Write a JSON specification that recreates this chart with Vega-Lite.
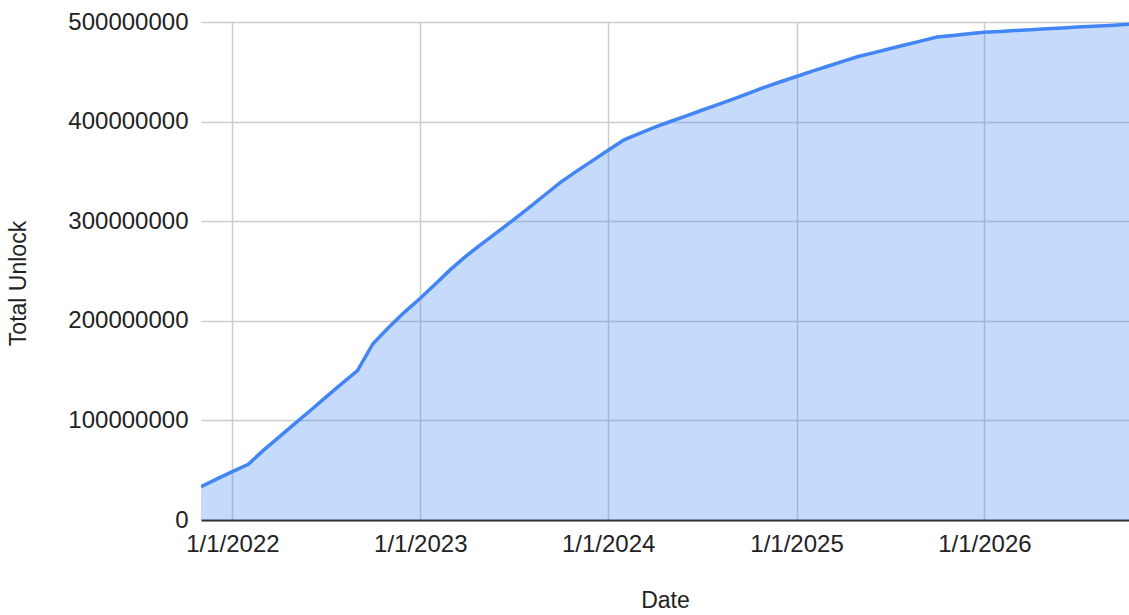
{
  "$schema": "https://vega.github.io/schema/vega-lite/v6.json",
  "width": 928,
  "height": 498,
  "autosize": {"type": "none"},
  "padding": {"left": 201, "top": 22, "right": 0, "bottom": 95},
  "background": "white",
  "config": {
    "font": "Liberation Sans",
    "view": {"stroke": null},
    "axis": {
      "labelFont": "Liberation Sans",
      "titleFont": "Liberation Sans",
      "labelFontSize": 24,
      "titleFontSize": 23,
      "labelColor": "#222222",
      "titleColor": "#222222",
      "titleFontWeight": "normal",
      "gridColor": "#cccccc",
      "gridWidth": 1.5,
      "ticks": false
    }
  },
  "data": {
    "values": [
      {"date": "2021-11-01", "unlock": 33500000},
      {"date": "2021-12-01", "unlock": 41000000},
      {"date": "2022-01-01", "unlock": 48500000},
      {"date": "2022-02-01", "unlock": 56000000},
      {"date": "2022-03-01", "unlock": 69400000},
      {"date": "2022-04-01", "unlock": 82900000},
      {"date": "2022-05-01", "unlock": 96300000},
      {"date": "2022-06-01", "unlock": 109700000},
      {"date": "2022-07-01", "unlock": 123100000},
      {"date": "2022-08-01", "unlock": 136600000},
      {"date": "2022-09-01", "unlock": 150000000},
      {"date": "2022-10-01", "unlock": 177000000},
      {"date": "2022-11-01", "unlock": 193500000},
      {"date": "2022-12-01", "unlock": 208500000},
      {"date": "2023-01-01", "unlock": 222600000},
      {"date": "2023-02-01", "unlock": 237800000},
      {"date": "2023-03-01", "unlock": 251600000},
      {"date": "2023-04-01", "unlock": 265400000},
      {"date": "2023-05-01", "unlock": 277500000},
      {"date": "2023-06-01", "unlock": 289500000},
      {"date": "2023-07-01", "unlock": 301300000},
      {"date": "2023-08-01", "unlock": 314000000},
      {"date": "2023-09-01", "unlock": 326800000},
      {"date": "2023-10-01", "unlock": 339300000},
      {"date": "2023-11-01", "unlock": 350300000},
      {"date": "2023-12-01", "unlock": 360600000},
      {"date": "2024-01-01", "unlock": 371300000},
      {"date": "2024-02-01", "unlock": 381700000},
      {"date": "2024-03-01", "unlock": 388000000},
      {"date": "2024-04-01", "unlock": 394400000},
      {"date": "2024-05-01", "unlock": 400100000},
      {"date": "2024-06-01", "unlock": 405800000},
      {"date": "2024-07-01", "unlock": 411400000},
      {"date": "2024-08-01", "unlock": 417100000},
      {"date": "2024-09-01", "unlock": 422900000},
      {"date": "2024-10-01", "unlock": 428600000},
      {"date": "2024-11-01", "unlock": 434700000},
      {"date": "2024-12-01", "unlock": 440000000},
      {"date": "2025-01-01", "unlock": 445300000},
      {"date": "2025-02-01", "unlock": 450600000},
      {"date": "2025-03-01", "unlock": 455300000},
      {"date": "2025-04-01", "unlock": 460400000},
      {"date": "2025-05-01", "unlock": 465400000},
      {"date": "2025-06-01", "unlock": 469300000},
      {"date": "2025-07-01", "unlock": 473200000},
      {"date": "2025-08-01", "unlock": 477100000},
      {"date": "2025-09-01", "unlock": 481100000},
      {"date": "2025-10-01", "unlock": 485000000},
      {"date": "2025-11-01", "unlock": 486500000},
      {"date": "2025-12-01", "unlock": 488100000},
      {"date": "2026-01-01", "unlock": 489600000},
      {"date": "2026-02-01", "unlock": 490500000},
      {"date": "2026-03-01", "unlock": 491400000},
      {"date": "2026-04-01", "unlock": 492200000},
      {"date": "2026-05-01", "unlock": 493100000},
      {"date": "2026-06-01", "unlock": 494000000},
      {"date": "2026-07-01", "unlock": 494900000},
      {"date": "2026-08-01", "unlock": 495800000},
      {"date": "2026-09-01", "unlock": 496600000},
      {"date": "2026-10-01", "unlock": 497500000},
      {"date": "2026-11-01", "unlock": 498300000}
    ]
  },
  "encoding": {
    "x": {
      "field": "date",
      "type": "temporal",
      "title": "Date",
      "scale": {
        "type": "utc",
        "domain": [
          {"year": 2021, "month": 11, "date": 1, "utc": true},
          {"year": 2026, "month": 10, "date": 9, "utc": true}
        ]
      },
      "axis": {
        "values": [
          {"year": 2022, "month": 1, "date": 1, "utc": true},
          {"year": 2023, "month": 1, "date": 1, "utc": true},
          {"year": 2024, "month": 1, "date": 1, "utc": true},
          {"year": 2025, "month": 1, "date": 1, "utc": true},
          {"year": 2026, "month": 1, "date": 1, "utc": true}
        ],
        "labelExpr": "utcFormat(datum.value, '%-m/%-d/%Y')",
        "labelPadding": 12,
        "domain": true,
        "domainColor": "#333333",
        "domainWidth": 2,
        "titleY": 80,
        "titleBaseline": "middle"
      }
    },
    "y": {
      "field": "unlock",
      "type": "quantitative",
      "title": "Total Unlock",
      "scale": {"domain": [0, 500000000], "nice": false},
      "axis": {
        "values": [0, 100000000, 200000000, 300000000, 400000000, 500000000],
        "format": "d",
        "labelPadding": 13,
        "domain": false,
        "titleX": -183,
        "titleY": 261,
        "titleAngle": -90,
        "titleBaseline": "middle",
        "titleAlign": "center"
      }
    }
  },
  "layer": [
    {"mark": {"type": "area", "color": "#4285F4", "opacity": 0.3, "clip": true}},
    {"mark": {"type": "line", "color": "#4285F4", "strokeWidth": 3.5, "clip": true}}
  ]
}
